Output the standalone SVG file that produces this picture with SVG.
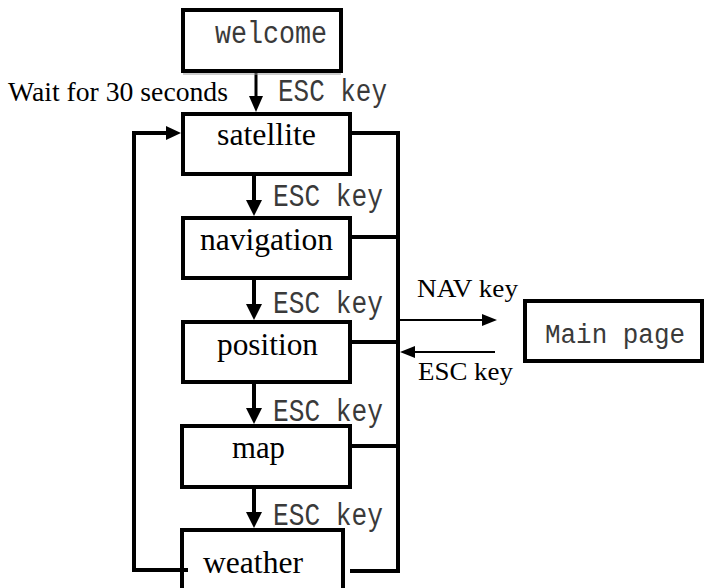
<svg xmlns="http://www.w3.org/2000/svg" width="704" height="588" viewBox="0 0 704 588">
<style>
.box{fill:#fff;stroke:#000;stroke-width:4}
.ln{fill:none;stroke:#000;stroke-width:4}
.thin{fill:none;stroke:#000;stroke-width:2}
.hd{fill:#000;stroke:none}
.ser{font-family:"Liberation Serif","Times New Roman",serif;fill:#000}
.mono{font-family:"Liberation Mono","Courier New",monospace;fill:#3a3a3a;font-size:31px}
</style>
<rect width="704" height="588" fill="#fff"/>
<g id="connectors">
  <line class="thin" x1="256" y1="73" x2="256" y2="98" style="stroke-width:3"/>
  <polygon class="hd" points="249,96 263,96 256,112"/>
  <line class="ln" x1="254" y1="176" x2="254" y2="202"/>
  <polygon class="hd" points="246,200 262,200 254,216"/>
  <line class="ln" x1="254" y1="280" x2="254" y2="306"/>
  <polygon class="hd" points="246,304 262,304 254,320"/>
  <line class="ln" x1="254" y1="384" x2="254" y2="410"/>
  <polygon class="hd" points="246,408 262,408 254,424"/>
  <line class="ln" x1="254" y1="489" x2="254" y2="514"/>
  <polygon class="hd" points="246,512 262,512 254,528"/>
  <polyline class="ln" points="188,570 134,570 134,133 168,133"/>
  <polygon class="hd" points="166,126 166,140 181,133"/>
  <line class="ln" x1="398" y1="131" x2="398" y2="573"/>
  <line class="ln" x1="352" y1="133" x2="400" y2="133"/>
  <line class="ln" x1="352" y1="237" x2="398" y2="237"/>
  <line class="ln" x1="352" y1="342" x2="398" y2="342"/>
  <line class="ln" x1="352" y1="446" x2="398" y2="446"/>
  <line class="ln" x1="350" y1="571" x2="400" y2="571"/>
  <line class="thin" x1="398" y1="320" x2="484" y2="320"/>
  <polygon class="hd" points="482,314 482,326 497,320"/>
  <line class="thin" x1="413" y1="352" x2="495" y2="352"/>
  <polygon class="hd" points="415,346 415,358 400,352"/>
</g>
<g id="welcome">
  <rect class="box" x="183" y="10" width="158" height="61"/>
  <line x1="183" y1="74" x2="341" y2="74" stroke="#999" stroke-width="1"/>
  <text class="mono" x="215" y="43" textLength="112" lengthAdjust="spacingAndGlyphs">welcome</text>
</g>
<g id="satellite">
  <rect class="box" x="183" y="114" width="167" height="60"/>
  <text class="ser" x="217" y="145" font-size="31" textLength="99" lengthAdjust="spacingAndGlyphs">satellite</text>
</g>
<g id="navigation">
  <rect class="box" x="183" y="218" width="167" height="60"/>
  <text class="ser" x="200" y="250" font-size="31" textLength="133" lengthAdjust="spacingAndGlyphs">navigation</text>
</g>
<g id="position">
  <rect class="box" x="183" y="322" width="167" height="60"/>
  <text class="ser" x="217" y="355" font-size="31" textLength="101" lengthAdjust="spacingAndGlyphs">position</text>
</g>
<g id="map">
  <rect class="box" x="182" y="426" width="168" height="61"/>
  <text class="ser" x="232" y="458" font-size="31" textLength="53" lengthAdjust="spacingAndGlyphs">map</text>
</g>
<g id="weather">
  <rect class="box" x="182" y="530" width="161" height="80"/>
  <line class="ln" x1="182" y1="570" x2="188" y2="570"/>
  <text class="ser" x="203" y="573" font-size="31" textLength="100" lengthAdjust="spacingAndGlyphs">weather</text>
</g>
<g id="mainpage">
  <rect class="box" x="525" y="301" width="177" height="60"/>
  <text class="mono" x="545" y="343" font-size="27" style="font-size:27px" textLength="140" lengthAdjust="spacingAndGlyphs">Main page</text>
</g>
<g id="labels">
  <text class="ser" x="8" y="101" font-size="27" textLength="220" lengthAdjust="spacingAndGlyphs">Wait for 30 seconds</text>
  <text class="mono" x="278" y="101" textLength="109" lengthAdjust="spacingAndGlyphs">ESC key</text>
  <text class="mono" x="273" y="206" textLength="110" lengthAdjust="spacingAndGlyphs">ESC key</text>
  <text class="mono" x="273" y="313" textLength="110" lengthAdjust="spacingAndGlyphs">ESC key</text>
  <text class="mono" x="273" y="421" textLength="110" lengthAdjust="spacingAndGlyphs">ESC key</text>
  <text class="mono" x="273" y="525" textLength="110" lengthAdjust="spacingAndGlyphs">ESC key</text>
  <text class="ser" x="417" y="297" font-size="26" textLength="101" lengthAdjust="spacingAndGlyphs">NAV key</text>
  <text class="ser" x="418" y="380" font-size="26" textLength="95" lengthAdjust="spacingAndGlyphs">ESC key</text>
</g>
</svg>
